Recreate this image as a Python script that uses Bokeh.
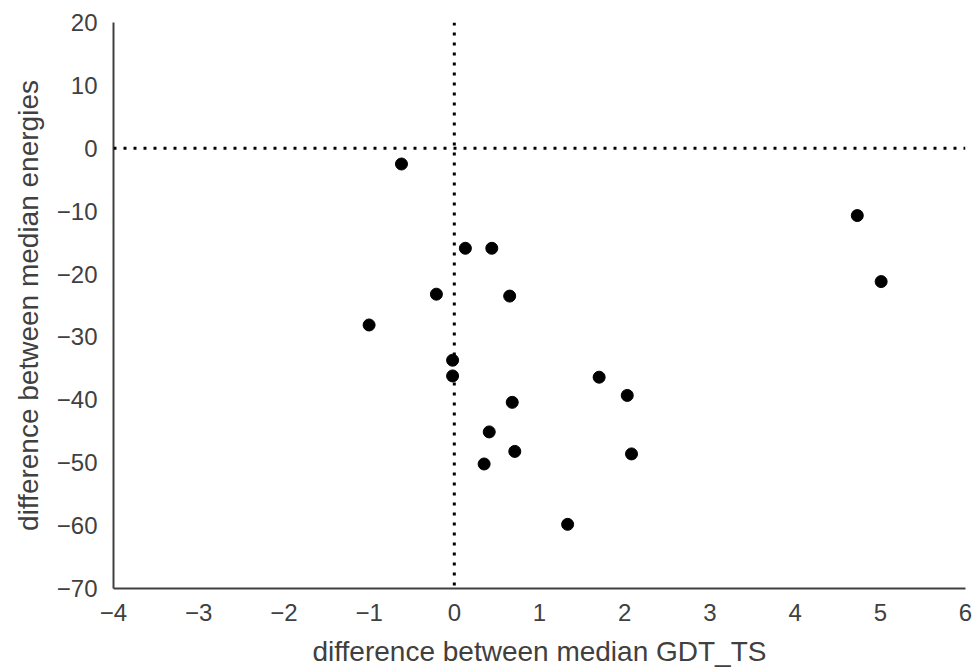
from bokeh.plotting import figure
from bokeh.models import Span, Range1d, FixedTicker
from bokeh.embed import file_html
from bokeh.resources import INLINE

gdt_diff = [-0.62, 4.73, 5.01, 0.13, 0.44, -0.21, 0.65, -1.0, -0.02, -0.02,
            1.70, 2.03, 0.68, 0.41, 0.71, 2.08, 0.35, 1.33]
energy_diff = [-2.5, -10.7, -21.2, -15.9, -15.9, -23.2, -23.5, -28.1, -33.7, -36.2,
               -36.4, -39.3, -40.4, -45.1, -48.2, -48.6, -50.2, -59.8]

x_ticks = [-4, -3, -2, -1, 0, 1, 2, 3, 4, 5, 6]
y_ticks = [-70, -60, -50, -40, -30, -20, -10, 0, 10, 20]

p = figure(width=975, height=669, output_backend="svg", toolbar_location=None,
           x_range=Range1d(-4, 6), y_range=Range1d(-70, 20),
           min_border_left=113, min_border_top=22, min_border_right=10,
           min_border_bottom=80)
p.outline_line_color = None
p.grid.visible = False
p.background_fill_color = "white"
p.border_fill_color = "white"

p.add_layout(Span(location=0, dimension="width", line_color="black",
                  line_width=3, line_dash="3 7"))
p.add_layout(Span(location=0, dimension="height", line_color="black",
                  line_width=3, line_dash="3 7"))

p.scatter(gdt_diff, energy_diff, size=12, color="black")

axis_col = "#404040"
for ax in (p.xaxis[0], p.yaxis[0]):
    ax.axis_line_color = axis_col
    ax.axis_line_width = 2
    ax.major_tick_line_color = None
    ax.minor_tick_line_color = None
    ax.major_tick_out = 0
    ax.major_tick_in = 0
    ax.major_label_text_font = "Liberation Sans"
    ax.major_label_text_font_size = "24px"
    ax.major_label_text_color = "#404040"
    ax.axis_label_text_font = "Liberation Sans"
    ax.axis_label_text_font_size = "28px"
    ax.axis_label_text_font_style = "normal"
    ax.axis_label_text_color = "#404040"

p.xaxis.ticker = FixedTicker(ticks=x_ticks)
p.yaxis.ticker = FixedTicker(ticks=y_ticks)
p.xaxis.major_label_overrides = {t: str(t).replace("-", "\u2212") for t in x_ticks}
p.yaxis.major_label_overrides = {t: str(t).replace("-", "\u2212") for t in y_ticks}
p.xaxis.axis_label = "difference between median GDT_TS"
p.yaxis.axis_label = "difference between median energies"
p.xaxis.major_label_standoff = 15
p.yaxis.major_label_standoff = 16
p.xaxis.axis_label_standoff = 12
p.yaxis.axis_label_standoff = 10

open("out.html", "w").write(file_html(p, INLINE))
